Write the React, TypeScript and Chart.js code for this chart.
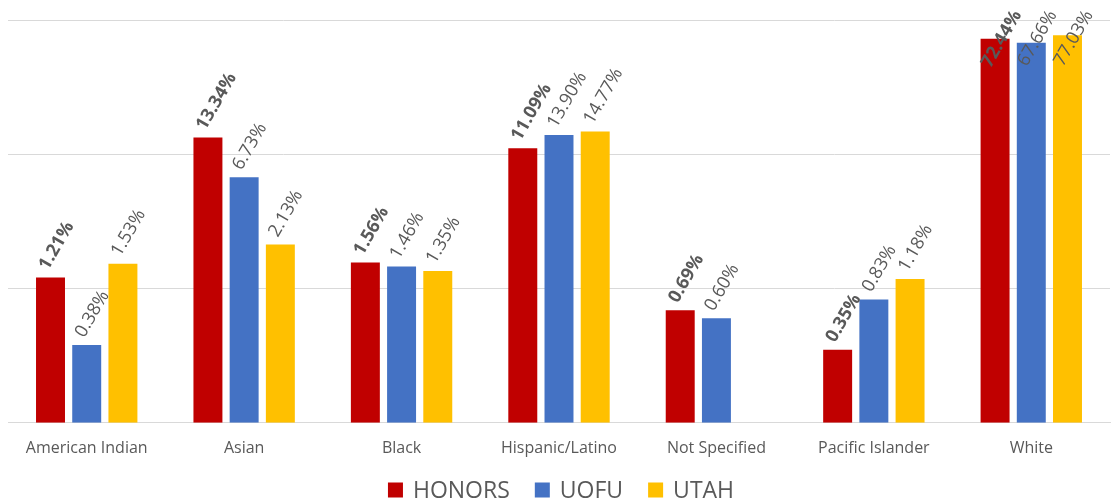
import React, { useEffect, useRef } from "react";
import { Chart, registerables } from "chart.js";

Chart.register(...registerables);

const categories = ["American Indian", "Asian", "Black", "Hispanic/Latino", "Not Specified", "Pacific Islander", "White"];
const honors = [1.21, 13.34, 1.56, 11.09, 0.69, 0.35, 72.44];
const uofu = [0.38, 6.73, 1.46, 13.9, 0.6, 0.83, 67.66];
const utah = [1.53, 2.13, 1.35, 14.77, null, 1.18, 77.03];
const gridValues = [0.1, 1, 10, 100];

const FONT = "'Open Sans', sans-serif";

const labelPlugin = {
  id: "rotLabels",
  afterDatasetsDraw(chart: any) {
    const ctx = chart.ctx;
    const ang = Math.PI / 3;
    chart.data.datasets.forEach((ds: any, di: number) => {
      const meta = chart.getDatasetMeta(di);
      meta.data.forEach((bar: any, i: number) => {
        const v = ds.data[i];
        if (v == null) return;
        const txt = v.toFixed(2) + "%";
        ctx.save();
        ctx.font = (di === 0 ? "bold " : "") + "18px " + FONT;
        const w = ctx.measureText(txt).width;
        let x = bar.x - 7;
        let y = bar.y - 9;
        const minEnd = 12;
        if (y - w * Math.sin(ang) < minEnd) {
          y = minEnd + w * Math.sin(ang);
          x -= 2;
        }
        ctx.translate(x, y);
        ctx.rotate(-ang);
        ctx.fillStyle = "#595959";
        ctx.textAlign = "left";
        ctx.textBaseline = "middle";
        ctx.fillText(txt, 0, 0);
        ctx.restore();
      });
    });
  },
};

const legendPlugin = {
  id: "customLegend",
  afterDraw(chart: any) {
    const ctx = chart.ctx;
    ctx.save();
    ctx.font = "23px " + FONT;
    const box = 15;
    const gapText = 10;
    const gapItem = 25;
    const items = chart.data.datasets.map((ds: any) => ({
      label: ds.label,
      color: ds.backgroundColor,
      w: box + gapText + ctx.measureText(ds.label).width,
    }));
    const total = items.reduce((s: number, it: any) => s + it.w, 0) + gapItem * (items.length - 1);
    let x = chart.width / 2 + 4 - total / 2;
    const cy = 490;
    items.forEach((it: any) => {
      ctx.fillStyle = it.color;
      ctx.fillRect(x, cy - box / 2, box, box);
      ctx.fillStyle = "#595959";
      ctx.textAlign = "left";
      ctx.textBaseline = "middle";
      ctx.fillText(it.label, x + box + gapText, cy + 1);
      x += it.w + gapItem;
    });
    ctx.restore();
  },
};

export default function App() {
  const ref = useRef<HTMLCanvasElement>(null);
  useEffect(() => {
    const chart = new Chart(ref.current!, {
      type: "bar",
      data: {
        labels: categories,
        datasets: [
          { label: "HONORS", data: honors, backgroundColor: "#C00000" },
          { label: "UOFU", data: uofu, backgroundColor: "#4472C4" },
          { label: "UTAH", data: utah as any, backgroundColor: "#FFC000" },
        ],
      },
      options: {
        animation: false,
        responsive: true,
        maintainAspectRatio: false,
        datasets: { bar: { categoryPercentage: 0.69, barPercentage: 0.8 } },
        layout: { padding: { top: 20, left: 8, right: 4, bottom: 38 } },
        scales: {
          x: {
            grid: { display: false },
            border: { display: true, color: "#d9d9d9" },
            ticks: { color: "#595959", font: { family: FONT, size: 16 }, padding: 8 },
          },
          y: {
            type: "logarithmic",
            min: 0.1,
            max: 100,
            afterBuildTicks: (axis: any) => {
              axis.ticks = gridValues.map((v) => ({ value: v }));
            },
            ticks: { display: false },
            grid: { color: "#d9d9d9", drawTicks: false },
            border: { display: false },
          },
        },
        plugins: {
          legend: { display: false },
          tooltip: { enabled: false },
        },
      },
      plugins: [labelPlugin, legendPlugin],
    });
    return () => chart.destroy();
  }, []);
  return (
    <div style={{ position: "absolute", left: 0, top: 0, width: 1114, height: 504 }}>
      <canvas ref={ref} />
    </div>
  );
}
